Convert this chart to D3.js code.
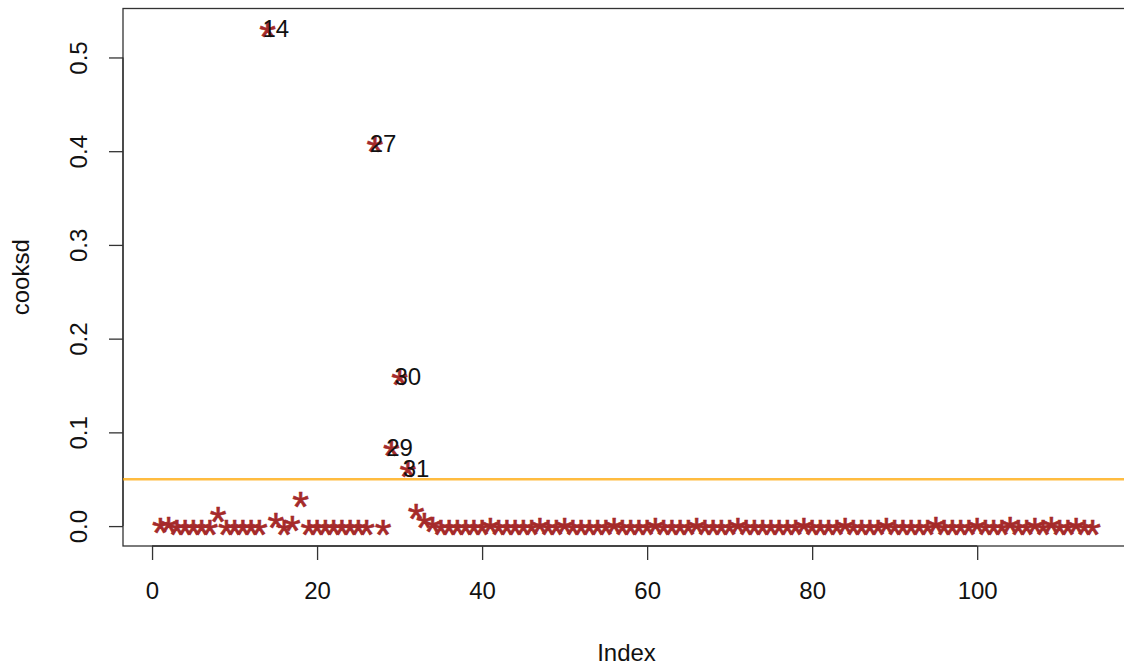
<!DOCTYPE html>
<html><head><meta charset="utf-8">
<script src="https://cdn.jsdelivr.net/npm/d3@7"></script>
<style>
html,body{margin:0;padding:0;background:#fff;}
svg{display:block;}
text{font-family:"Liberation Sans",Arial,Helvetica,sans-serif;}
</style></head>
<body>
<svg id="chart" width="1124" height="665"></svg>
<script>
// Cook's distance for observations 1..114
const cooksd = [
  0.0020, 0.0030, 0.0005, 0.0005, 0.0005, 0.0005, 0.0005, 0.0140, 0.0005, 0.0005,
  0.0005, 0.0005, 0.0005, 0.5310, 0.0080, 0.0003, 0.0045, 0.0300, 0.0005, 0.0005,
  0.0005, 0.0005, 0.0005, 0.0005, 0.0005, 0.0005, 0.4085, 0.0005, 0.0840, 0.1600,
  0.0620, 0.0170, 0.0080, 0.0030, 0.0005, 0.0005, 0.0005, 0.0005, 0.0005, 0.0005,
  0.0020, 0.0005, 0.0005, 0.0005, 0.0005, 0.0005, 0.0020, 0.0005, 0.0005, 0.0020,
  0.0005, 0.0005, 0.0005, 0.0005, 0.0005, 0.0020, 0.0005, 0.0005, 0.0005, 0.0005,
  0.0020, 0.0005, 0.0005, 0.0005, 0.0005, 0.0020, 0.0005, 0.0005, 0.0005, 0.0005,
  0.0025, 0.0005, 0.0005, 0.0005, 0.0005, 0.0005, 0.0005, 0.0005, 0.0020, 0.0005,
  0.0005, 0.0005, 0.0005, 0.0025, 0.0005, 0.0005, 0.0005, 0.0005, 0.0025, 0.0005,
  0.0005, 0.0005, 0.0005, 0.0005, 0.0030, 0.0005, 0.0005, 0.0005, 0.0005, 0.0025,
  0.0005, 0.0005, 0.0005, 0.0030, 0.0005, 0.0005, 0.0025, 0.0005, 0.0030, 0.0005,
  0.0005, 0.0025, 0.0005, 0.0005
];
const threshold = 0.05;
const labelledIndex = [14, 27, 29, 30, 31];
const xTicks = [0, 20, 40, 60, 80, 100];
const yTicks = [0, 0.1, 0.2, 0.3, 0.4, 0.5];
const yTickLabels = ["0.0", "0.1", "0.2", "0.3", "0.4", "0.5"];
const xTitle = "Index";
const yTitle = "cooksd";

(function () {
const svg = d3.select("#chart");
const pLeft = 123, pRight = 1130, pTop = 8.5, pBottom = 546;
const n = cooksd.length;
const padX = 0.04 * (n - 1);
const yMax = d3.max(cooksd), yMin = 0;
const padY = 0.04 * (yMax - yMin);
const x = d3.scaleLinear().domain([1 - padX, n + padX]).range([pLeft, pRight]);
const y = d3.scaleLinear().domain([yMin - padY, yMax + padY]).range([pBottom, pTop]);

const fs = 24;
// plot box
svg.append("rect").attr("x", pLeft).attr("y", pTop).attr("width", pRight - pLeft).attr("height", pBottom - pTop)
  .attr("fill", "none").attr("stroke", "#333").attr("stroke-width", 1.3);

// x axis
const gx = svg.append("g").attr("transform", `translate(0,${pBottom})`)
  .call(d3.axisBottom(x).tickValues(xTicks).tickSize(14).tickPadding(22).tickFormat(d3.format("d")));
gx.select(".domain").remove();
gx.selectAll(".tick line").attr("stroke", "#333").attr("stroke-width", 1.3);
gx.selectAll(".tick text").attr("font-size", fs).attr("fill", "#111").style("font-family", "Liberation Sans, Arial, sans-serif");
gx.append("line").attr("x1", x(xTicks[0])).attr("x2", x(xTicks[xTicks.length - 1])).attr("y1", 0).attr("y2", 0)
  .attr("stroke", "#333").attr("stroke-width", 1.3);

// y axis
const gy = svg.append("g").attr("transform", `translate(${pLeft},0)`)
  .call(d3.axisLeft(y).tickValues(yTicks).tickSize(14).tickFormat((d, i) => yTickLabels[i]));
gy.select(".domain").remove();
gy.selectAll(".tick line").attr("stroke", "#333").attr("stroke-width", 1.3);
gy.selectAll(".tick text").attr("font-size", fs).attr("fill", "#111")
  .style("font-family", "Liberation Sans, Arial, sans-serif")
  .attr("text-anchor", "middle").attr("transform", "rotate(-90)")
  .attr("x", 0).attr("y", -45).attr("dy", "0.36em");
gy.append("line").attr("y1", y(yTicks[0])).attr("y2", y(yTicks[yTicks.length - 1])).attr("x1", 0).attr("x2", 0)
  .attr("stroke", "#333").attr("stroke-width", 1.3);

// titles
svg.append("text").attr("x", (pLeft + pRight) / 2).attr("y", 652).attr("dy", "0.36em")
  .attr("text-anchor", "middle").attr("font-size", fs).attr("fill", "#111").text(xTitle);
svg.append("text").attr("transform", `translate(20,${(pTop + pBottom) / 2}) rotate(-90)`).attr("dy", "0.36em")
  .attr("text-anchor", "middle").attr("font-size", fs).attr("fill", "#111").text(yTitle);

// threshold line
svg.append("line").attr("x1", pLeft).attr("x2", pRight).attr("y1", y(threshold)).attr("y2", y(threshold))
  .attr("stroke", "#FFA500").attr("stroke-width", 2.6).attr("stroke-opacity", 0.75);

// points (asterisks)
const starFs = 43;
svg.append("g").selectAll("text").data(cooksd).join("text")
  .attr("x", (d, i) => x(i + 1)).attr("y", d => y(d)).attr("dy", (0.535 * starFs) + "px")
  .attr("text-anchor", "middle").attr("font-size", starFs)
  .attr("fill", "#A52A2A").attr("stroke", "#A52A2A").attr("stroke-width", 0.6).text("*");

// labels
svg.append("g").selectAll("text").data(labelledIndex).join("text")
  .attr("x", d => x(d + 1)).attr("y", d => y(cooksd[d - 1])).attr("dy", "0.36em")
  .attr("text-anchor", "middle").attr("font-size", fs).attr("fill", "#111").text(d => String(d));
})();
</script>
</body></html>
